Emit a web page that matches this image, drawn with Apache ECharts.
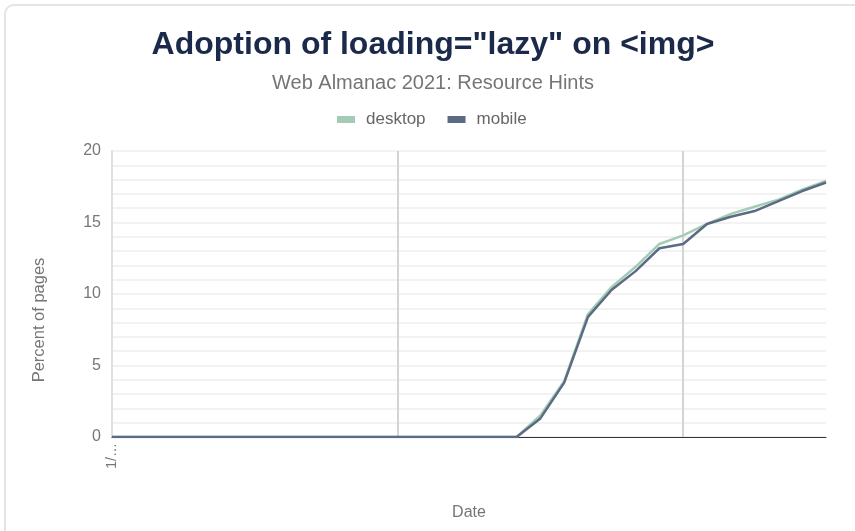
<!DOCTYPE html>
<html>
<head>
<meta charset="utf-8">
<script src="https://cdn.jsdelivr.net/npm/echarts@6/dist/echarts.min.js"></script>
<style>
  html, body { margin: 0; padding: 0; background: #fff; overflow: hidden; }
  #frame {
    position: absolute; left: 4px; top: 4px; width: 880px; height: 560px;
    border: 2px solid #e4e4e4; border-radius: 10px; box-sizing: border-box;
  }
  #chart { position: absolute; left: 0; top: 0; width: 855px; height: 531px; }
</style>
</head>
<body>
<div id="frame"></div>
<div id="chart"></div>
<script>
const dates = [
  '1/1/2019', '2/1/2019', '3/1/2019', '4/1/2019', '5/1/2019', '6/1/2019',
  '7/1/2019', '8/1/2019', '9/1/2019', '10/1/2019', '11/1/2019', '12/1/2019',
  '1/1/2020', '2/1/2020', '3/1/2020', '4/1/2020', '5/1/2020', '6/1/2020',
  '7/1/2020', '8/1/2020', '9/1/2020', '10/1/2020', '11/1/2020', '12/1/2020',
  '1/1/2021', '2/1/2021', '3/1/2021', '4/1/2021', '5/1/2021', '6/1/2021',
  '7/1/2021'
];

const desktop = [
  0, 0, 0, 0, 0, 0, 0, 0, 0, 0, 0, 0,
  0, 0, 0, 0, 0, 0,
  1.5, 3.9, 8.6, 10.5, 11.9, 13.5,
  14.1, 14.9, 15.6, 16.1, 16.6, 17.3, 17.9
];

const mobile = [
  0, 0, 0, 0, 0, 0, 0, 0, 0, 0, 0, 0,
  0, 0, 0, 0, 0, 0,
  1.3, 3.8, 8.4, 10.3, 11.6, 13.2,
  13.5, 14.9, 15.4, 15.8, 16.5, 17.2, 17.8
];

const chart = echarts.init(document.getElementById('chart'));

chart.setOption({
  textStyle: { fontFamily: 'Liberation Sans, Arial, sans-serif' },
  title: {
    text: 'Adoption of loading="lazy" on <img>',
    subtext: 'Web Almanac 2021: Resource Hints',
    left: 428,
    textAlign: 'center',
    top: 24,
    itemGap: 12,
    textStyle: { fontSize: 32, fontWeight: 'bold', color: '#1b2a4a' },
    subtextStyle: { fontSize: 20, color: '#757575' }
  },
  legend: {
    top: 106,
    left: 332,
    itemWidth: 18,
    itemHeight: 7,
    itemGap: 22,
    icon: 'rect',
    textStyle: { fontSize: 17, color: '#666', padding: [0, 0, 0, 6] },
    data: ['desktop', 'mobile']
  },
  grid: { left: 112, right: 29, top: 151, bottom: 94, containLabel: false },
  xAxis: {
    type: 'category',
    data: dates,
    boundaryGap: false,
    name: 'Date',
    nameLocation: 'middle',
    nameGap: 68,
    nameTextStyle: { fontSize: 16, color: '#757575' },
    axisLine: { lineStyle: { color: '#333', width: 1 } },
    axisTick: { show: false },
    axisLabel: {
      interval: (i) => i === 0,
      rotate: 90,
      fontSize: 14,
      color: '#777',
      width: 32,
      overflow: 'truncate',
      ellipsis: '…',
      margin: 6
    },
    splitLine: {
      show: true,
      interval: (i) => i > 0 && i % 12 === 0,
      lineStyle: { color: '#d4d4d4', width: 2 }
    }
  },
  yAxis: {
    type: 'value',
    min: 0,
    max: 20,
    interval: 5,
    name: 'Percent of pages',
    nameLocation: 'middle',
    nameGap: 64,
    nameTextStyle: { fontSize: 16.5, color: '#757575', padding: [0, 52, 0, 0] },
    axisLine: { show: true, lineStyle: { color: '#e0e0e0', width: 2 } },
    axisTick: { show: false },
    axisLabel: { fontSize: 16, color: '#777', margin: 11 },
    splitLine: { lineStyle: { color: '#eeeeee', width: 1.5 } },
    minorTick: { show: false, splitNumber: 5 },
    minorSplitLine: { show: true, lineStyle: { color: '#eeeeee', width: 1.5 } }
  },
  series: [
    {
      name: 'desktop',
      type: 'line',
      data: desktop,
      showSymbol: false,
      symbol: 'none',
      lineStyle: { color: '#a3cbb5', width: 2.5 },
      itemStyle: { color: '#a3cbb5' }
    },
    {
      name: 'mobile',
      type: 'line',
      data: mobile,
      showSymbol: false,
      symbol: 'none',
      lineStyle: { color: '#5b6b84', width: 2.5 },
      itemStyle: { color: '#5b6b84' }
    }
  ]
});
</script>
</body>
</html>
